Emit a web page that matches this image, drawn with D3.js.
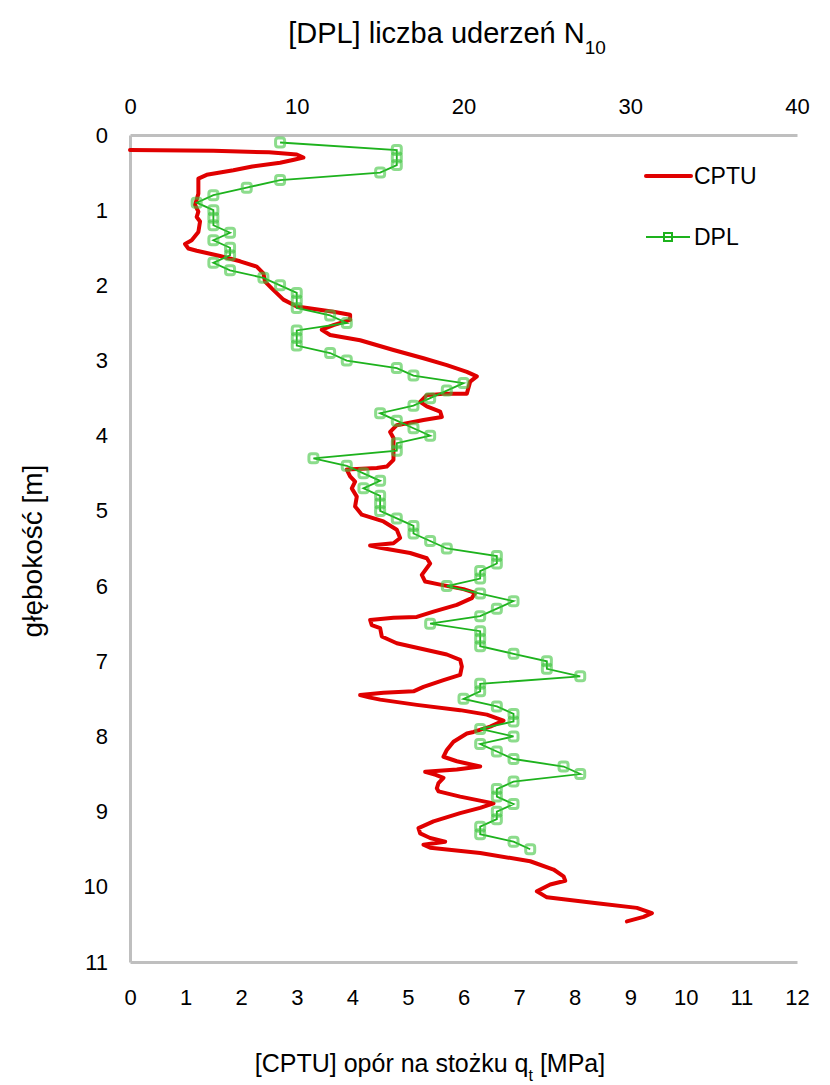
<!DOCTYPE html>
<html lang="pl">
<head>
<meta charset="utf-8">
<title>CPTU / DPL</title>
<script src="https://cdn.jsdelivr.net/npm/d3@7"></script>
<style>
  body { margin: 0; background: #fff; }
  svg text { font-family: "Liberation Sans", Arial, sans-serif; fill: #000; }
</style>
</head>
<body>
<div id="chart"></div>
<script>
// DPL - liczba uderzen N10 co 0.1 m
var dplDepth = [0.1,0.2,0.3,0.4,0.5,0.6,0.7,0.8,0.9,1.0,1.1,1.2,1.3,1.4,1.5,1.6,1.7,1.8,1.9,2.0,
  2.1,2.2,2.3,2.4,2.5,2.6,2.7,2.8,2.9,3.0,3.1,3.2,3.3,3.4,3.5,3.6,3.7,3.8,3.9,4.0,
  4.1,4.2,4.3,4.4,4.5,4.6,4.7,4.8,4.9,5.0,5.1,5.2,5.3,5.4,5.5,5.6,5.7,5.8,5.9,6.0,
  6.1,6.2,6.3,6.4,6.5,6.6,6.7,6.8,6.9,7.0,7.1,7.2,7.3,7.4,7.5,7.6,7.7,7.8,7.9,8.0,
  8.1,8.2,8.3,8.4,8.5,8.6,8.7,8.8,8.9,9.0,9.1,9.2,9.3,9.4,9.5];
var dplN = [9,16,16,16,15,9,7,5,4,5,5,5,6,5,6,6,5,6,8,9,
  10,10,10,12,13,10,10,10,12,13,16,17,20,19,18,17,15,16,17,18,
  16,16,11,13,14,15,14,15,15,15,16,17,17,18,19,22,22,21,21,19,
  21,23,22,21,18,21,21,21,23,25,25,27,21,21,20,22,23,23,21,23,
  21,22,23,26,27,23,22,22,23,22,22,21,21,23,24];

// CPTU - opor na stozku qt [MPa]
var cptuDepth = [0.2,0.21,0.23,0.26,0.3,0.33,0.37,0.42,0.47,0.53,0.58,0.78,0.86,0.93,1.02,1.09,1.15,1.29,1.4,1.45,
  1.51,1.54,1.61,1.68,1.75,1.84,1.95,2.04,2.19,2.28,2.35,2.39,2.46,2.53,2.59,2.66,2.73,2.86,2.97,3.06,
  3.15,3.21,3.28,3.44,3.44,3.46,3.55,3.61,3.68,3.75,3.79,3.86,3.95,4.03,4.32,4.41,4.43,4.45,4.54,4.61,
  4.7,4.81,4.94,5.05,5.14,5.25,5.36,5.43,5.46,5.49,5.56,5.63,5.7,5.85,5.94,5.98,6.04,6.09,6.16,6.25,
  6.34,6.41,6.42,6.45,6.52,6.56,6.67,6.76,6.85,6.91,6.98,7.07,7.18,7.25,7.34,7.4,7.42,7.45,7.48,7.51,
  7.58,7.65,7.71,7.79,7.87,7.94,7.96,8.07,8.18,8.27,8.33,8.4,8.44,8.47,8.51,8.55,8.62,8.69,8.73,8.8,
  8.89,8.95,9.02,9.13,9.22,9.29,9.35,9.4,9.44,9.48,9.55,9.66,9.77,9.86,9.92,9.97,10.06,10.14,10.22,10.28,
  10.35,10.4,10.46];
var cptuQ = [0,1.5,2.5,3.0,3.12,2.95,2.7,2.2,1.86,1.38,1.23,1.23,1.2,1.17,1.23,1.2,1.26,1.23,1.11,0.99,
  1.05,1.2,1.62,1.98,2.28,2.4,2.43,2.55,2.76,3.0,3.66,3.96,3.96,3.66,3.45,3.6,4.14,4.74,5.28,5.7,
  6.06,6.24,6.12,6.06,5.7,5.34,5.22,5.34,5.58,5.61,5.28,4.8,4.68,4.74,4.74,4.62,4.44,3.9,3.96,4.05,
  3.99,4.08,4.05,4.17,4.56,4.8,4.86,4.74,4.32,4.5,5.04,5.34,5.4,5.25,5.31,5.58,6.0,6.21,6.15,5.88,
  5.46,5.16,4.74,4.32,4.35,4.5,4.53,4.8,5.34,5.7,5.94,5.97,5.94,5.64,5.28,5.1,4.56,4.14,4.3,4.5,
  5.16,5.94,6.42,6.72,6.48,6.18,6.06,5.82,5.7,5.64,5.88,6.3,5.88,5.31,5.5,5.64,5.55,5.52,5.55,5.94,
  6.54,6.3,5.94,5.46,5.19,5.22,5.4,5.67,5.28,5.4,6.3,7.2,7.62,7.8,7.83,7.56,7.32,7.5,8.4,9.12,
  9.39,9.24,8.94];

var depthTicks = [0,1,2,3,4,5,6,7,8,9,10,11];
var dplTicks = [0,10,20,30,40];
var cptuTicks = [0,1,2,3,4,5,6,7,8,9,10,11,12];

var w = 830, h = 1085;
var pLeft = 130, pRight = 797, pTop = 135, pBottom = 962;

var svg = d3.select("#chart").append("svg")
  .attr("width", w).attr("height", h);

var y = d3.scaleLinear().domain([0, 11]).range([pTop, pBottom]);
var xDpl = d3.scaleLinear().domain([0, 40]).range([pLeft, pRight]);
var xCptu = d3.scaleLinear().domain([0, 12]).range([pLeft, pRight]);

var axisColor = "#bfbfbf";

function styleAxis(g) {
  g.select(".domain").attr("stroke", axisColor).attr("stroke-width", 3);
  g.selectAll(".tick line").remove();
  g.selectAll("text").style("font-size", "22px")
    .style("font-family", "'Liberation Sans', Arial, sans-serif").attr("fill", "#000");
}

// top axis - DPL
svg.append("g").attr("transform", "translate(0," + pTop + ")")
  .call(d3.axisTop(xDpl).tickValues(dplTicks).tickSize(0).tickPadding(21).tickSizeOuter(0))
  .call(styleAxis);

// bottom axis - CPTU
svg.append("g").attr("transform", "translate(0," + pBottom + ")")
  .call(d3.axisBottom(xCptu).tickValues(cptuTicks).tickSize(0).tickPadding(27).tickSizeOuter(0))
  .call(styleAxis);

// left axis - depth
svg.append("g").attr("transform", "translate(" + pLeft + ",0)")
  .call(d3.axisLeft(y).tickValues(depthTicks).tickSize(0).tickPadding(22).tickSizeOuter(0))
  .call(styleAxis);

// CPTU line
var cptu = cptuDepth.map(function(d, i) { return [cptuQ[i], d]; });
svg.append("path")
  .datum(cptu)
  .attr("fill", "none")
  .attr("stroke", "#e00000")
  .attr("stroke-width", 4)
  .attr("stroke-linejoin", "round")
  .attr("stroke-linecap", "round")
  .attr("d", d3.line()
    .x(function(d) { return xCptu(d[0]); })
    .y(function(d) { return y(d[1]); }));

// DPL line + markers
var dpl = dplDepth.map(function(d, i) { return [dplN[i], d]; });
svg.append("path")
  .datum(dpl)
  .attr("fill", "none")
  .attr("stroke", "#1db21d")
  .attr("stroke-width", 1.8)
  .attr("d", d3.line()
    .x(function(d) { return xDpl(d[0]); })
    .y(function(d) { return y(d[1]); }));

var ms = 9;
svg.append("g").selectAll("rect")
  .data(dpl)
  .enter()
  .append("rect")
  .attr("x", function(d) { return xDpl(d[0]) - ms / 2; })
  .attr("y", function(d) { return y(d[1]) - ms / 2; })
  .attr("width", ms)
  .attr("height", ms)
  .attr("rx", 2.5)
  .attr("fill", "none")
  .attr("stroke", "#3fc43f")
  .attr("stroke-opacity", 0.6)
  .attr("stroke-width", 3);

// legend
var leg = svg.append("g");
leg.append("line").attr("x1", 646).attr("x2", 691).attr("y1", 176).attr("y2", 176)
  .attr("stroke", "#e00000").attr("stroke-width", 4).attr("stroke-linecap", "round");
leg.append("text").attr("x", 694).attr("y", 184).style("font-size", "23px").text("CPTU");
leg.append("line").attr("x1", 646).attr("x2", 690).attr("y1", 237).attr("y2", 237)
  .attr("stroke", "#1db21d").attr("stroke-width", 1.8);
leg.append("rect").attr("x", 664).attr("y", 233).attr("width", 8).attr("height", 8)
  .attr("fill", "none").attr("stroke", "#1db21d").attr("stroke-width", 2);
leg.append("text").attr("x", 694).attr("y", 245).style("font-size", "23px").text("DPL");

// titles
var t1 = svg.append("text").attr("x", 447).attr("y", 43)
  .attr("text-anchor", "middle").style("font-size", "29px");
t1.append("tspan").text("[DPL] liczba uderzeń N");
t1.append("tspan").attr("baseline-shift", "sub").style("font-size", "19px").text("10");

var t2 = svg.append("text").attr("x", 430).attr("y", 1072)
  .attr("text-anchor", "middle").style("font-size", "25px");
t2.append("tspan").text("[CPTU] opór na stożku q");
t2.append("tspan").attr("baseline-shift", "sub").style("font-size", "16px").text("t");
t2.append("tspan").text(" [MPa]");

svg.append("text")
  .attr("transform", "translate(42,551) rotate(-90)")
  .attr("text-anchor", "middle").style("font-size", "28px")
  .text("głębokość [m]");
</script>
</body>
</html>
